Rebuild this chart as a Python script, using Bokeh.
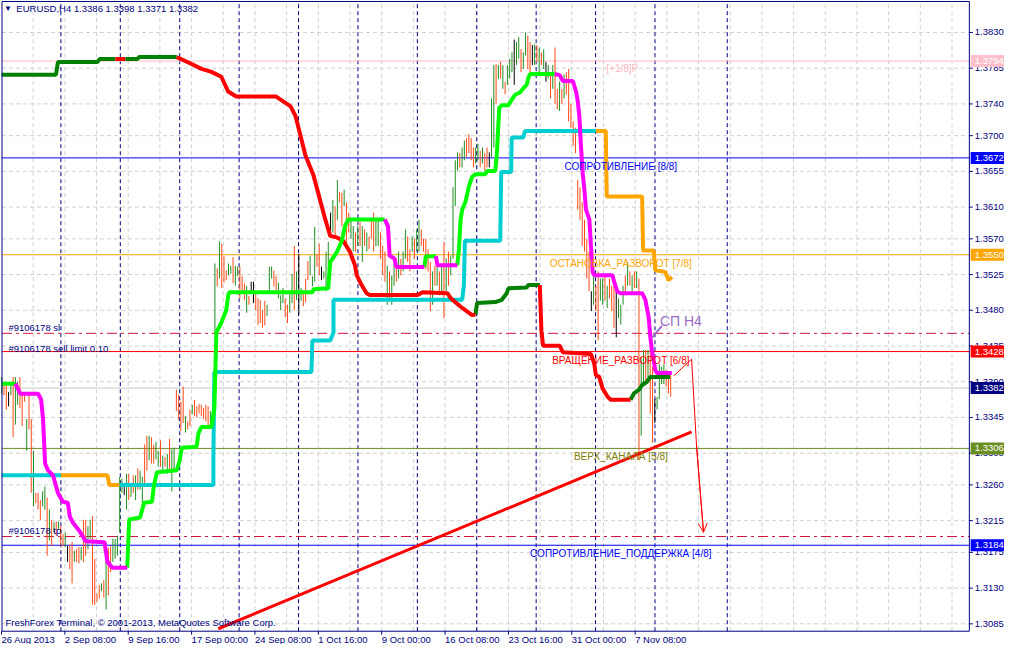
from bokeh.plotting import figure
from bokeh.models import Range1d, Label, Arrow, OpenHead, ColumnDataSource
from bokeh.core.properties import value
from bokeh.embed import file_html
from bokeh.resources import INLINE

NAVY = "#000080"
FONT = "Liberation Sans"

# ---------------- data: H4 bars, prices in pips above 1.3000 ----------------
# 26 Aug - 16 Sep
high_a = [396, 390, 390, 377, 386, 396, 396, 390, 396, 375,
          374, 343, 375, 343, 303, 250, 250, 241, 252, 258,
          244, 229, 216, 213, 214, 214, 208, 198, 200, 183,
          185, 188, 177, 179, 182, 182, 216, 216, 208, 216,
          221, 167, 123, 134, 136, 140, 187, 181, 183, 192,
          192, 196, 270, 268, 260, 274, 274, 262, 272, 272,
          281, 278, 270, 311, 322, 322, 320, 311, 314, 303,
          316, 297, 295, 299, 318, 305, 307, 380, 374, 365,
          384, 347, 340, 355, 361, 367, 359, 362, 361, 357,
          361, 359, 353, 365]
low_a = [375, 373, 355, 359, 373, 320, 336, 361, 357, 334,
         365, 303, 330, 250, 233, 237, 229, 216, 233, 229,
         171, 190, 183, 200, 196, 204, 183, 183, 182, 163,
         154, 136, 163, 163, 161, 165, 163, 171, 179, 192,
         109, 109, 113, 117, 126, 118, 103, 121, 150, 163,
         167, 171, 200, 250, 247, 229, 241, 245, 250, 241,
         254, 254, 237, 262, 278, 291, 287, 287, 292, 283,
         283, 278, 283, 274, 278, 252, 278, 353, 342, 328,
         338, 326, 330, 334, 349, 347, 345, 350, 347, 343,
         340, 334, 332, 353]
dir_a = ("uddkuduudd" "dudduddduu" "dudududduk" "dduddudduu" "ddddu" "d" "udduu"
         "uuukududud" "uuddudd" "u" "udu" "duduuddddu" "ddudd" "d" "ddddu" "u")
# 17 Sep - 3 Oct
high_b = [539, 533, 567, 564, 548, 530, 539, 536, 547, 536,
          535, 535, 523, 514, 511, 498, 516, 516, 505, 495,
          493, 480, 492, 487, 535, 535, 530, 523, 515, 499,
          508, 495, 487, 504, 526, 561, 529, 551, 508, 505,
          520, 542, 549, 523, 585, 551, 564, 535, 529, 554,
          566]
low_b = [452, 510, 520, 508, 515, 518, 524, 526, 514, 511,
         523, 495, 504, 493, 477, 487, 504, 489, 480, 462,
         464, 458, 461, 473, 504, 520, 510, 505, 495, 480,
         489, 471, 464, 477, 489, 480, 493, 474, 492, 485,
         490, 518, 524, 510, 516, 535, 524, 518, 520, 504,
         530]
dir_b = "udud" "d" "duuduudddudkk" "d" "dddduuudd" "u" "uudduudukud" "d" "duuuddkuuu"
# 3 Oct - 11 Nov
high_c = [603, 619, 611, 644, 629, 628, 632, 616, 603, 594,
          586, 578, 586, 591, 586, 582, 578, 573, 594, 603,
          594, 594, 578, 561, 554, 536, 529, 524, 545, 545,
          554, 545, 554, 582, 573, 557, 573, 570, 582, 594,
          582, 570, 570, 557, 541, 529, 536, 541, 529, 536,
          566, 545, 554, 549, 635, 669, 679, 678, 685, 694,
          697, 702, 697, 685, 685, 690, 681, 685, 678, 685,
          679, 747, 789, 790, 789, 793, 789, 768, 789, 797,
          805, 821, 818, 824, 809, 805, 830, 826, 818, 814,
          815, 814, 811, 805, 809, 793, 789, 777, 789, 811,
          759, 768, 759, 777, 780, 784, 740, 718, 710, 644,
          635, 616, 594, 570, 554, 504, 524, 511, 529, 520,
          520, 524, 511, 520, 511, 511, 504, 495, 487, 511,
          524, 541, 529, 524, 529, 529, 520, 421, 430, 430,
          430, 433, 409, 368, 371, 412, 409, 412, 405, 400, 398]
low_c = [573, 578, 570, 594, 616, 586, 611, 561, 578, 570,
         554, 554, 561, 561, 541, 561, 554, 557, 570, 554,
         561, 561, 545, 524, 516, 487, 495, 487, 511, 516,
         520, 524, 529, 545, 541, 529, 554, 545, 554, 554,
         561, 554, 532, 529, 479, 487, 511, 511, 499, 504,
         470, 504, 511, 524, 545, 611, 656, 660, 660, 669,
         673, 678, 669, 660, 665, 669, 660, 665, 656, 660,
         660, 673, 685, 740, 771, 772, 759, 752, 764, 772,
         780, 764, 789, 797, 780, 784, 801, 784, 780, 789,
         789, 793, 780, 789, 784, 768, 772, 747, 759, 740,
         733, 731, 740, 747, 752, 718, 710, 687, 678, 607,
         594, 561, 554, 520, 504, 479, 487, 479, 442, 492,
         487, 492, 483, 495, 479, 458, 446, 470, 462, 487,
         499, 511, 511, 504, 508, 508, 291, 322, 387, 392,
         396, 350, 313, 338, 355, 368, 387, 387, 384, 375, 371]
dir_c = ("kududduddu" "ududududdd" "uuddduduud" "uduudduduu" "dddddududu"
         "duduuuuduu" "dddduududd" "kuudududuu" "ukuuduuddk" "ududukudud"
         "dududddddd" "dddddkuddu" "ududddkuuu" "dudududuud" "uddkuuuuddd")

# indicator 1 (dark green = up, red = down): x = bar index, y = pips
trend_up_x = [[0, 23.89, 24.76, 42.23, 43.10, 50.09],
              [54.46, 59.70, 60.57, 77.16],
              [208.91, 209.61, 217.64, 220.52, 222.71, 223.45, 231.44, 232.18, 237.29],
              [277.30, 278.78, 280.97, 282.41, 284.59, 286.03, 294.76]]
trend_up_y = [[776.7, 776.7, 792.8, 792.8, 796.5, 796.5],
              [796.5, 796.5, 799.0, 799.0],
              [474.6, 489.1, 490.4, 493.2, 501.5, 507.7, 508.6, 511.8, 511.8],
              [367.3, 375.4, 379.7, 385.9, 390.0, 396.1, 396.1]]
trend_dn_x = [[50.09, 54.46],
              [77.16, 83.71, 88.08, 92.44, 96.81, 99.86, 103.36, 120.83, 127.38, 129.56,
               131.75, 133.93, 137.43, 139.18, 140.92, 142.67, 144.85, 147.78, 150.53, 153.59,
               155.77, 156.52, 158.70, 160.87, 162.33, 183.41, 185.59, 196.51, 197.99, 203.06,
               207.42, 208.91],
              [237.29, 237.99, 238.73, 246.03, 247.47, 259.83, 261.31, 262.01, 263.50, 264.94,
               267.12, 268.57, 277.30]]
trend_dn_y = [[796.5, 796.5],
              [799.0, 790.3, 784.1, 780.4, 774.2, 755.6, 749.4, 749.4, 737.0, 724.6,
               699.8, 675.0, 650.3, 631.7, 613.1, 594.5, 573.8, 571.8, 567.6, 553.6,
               536.6, 524.2, 511.8, 501.5, 499.3, 499.3, 502.7, 501.5, 495.3, 482.9,
               473.9, 474.6],
              [511.8, 454.0, 435.4, 435.4, 427.1, 425.0, 412.6, 398.2, 396.1, 381.6,
               371.3, 367.3, 367.3]]

# indicator 2 (lime = up, magenta = down)
fast_up_x = [[0, 5.98],
             [55.33, 56.20, 61.00, 62.75, 66.24, 67.12, 68.43, 77.16, 78.47, 79.34,
              85.90, 86.77, 88.08, 92.45, 93.76, 94.63, 96.81, 99.00, 99.87, 100.31,
              136.99, 137.43, 143.97, 144.85, 147.77, 149.96, 151.40, 152.84, 168.87],
             [186.33, 187.07, 191.44],
             [200.87, 201.62, 202.36, 203.06, 204.54, 205.99, 207.42, 208.91, 213.28, 213.97,
              217.64, 218.34, 219.08, 219.38, 220.52, 223.45, 224.89, 226.38, 228.56, 230.00,
              231.44, 232.18, 232.93, 243.84]]
fast_up_y = [[387.5, 387.5],
             [155.7, 216.4, 218.9, 237.5, 238.7, 259.8, 275.9, 278.4, 290.8, 306.9,
              308.2, 325.5, 333.0, 333.0, 356.5, 452.0, 464.3, 480.4, 499.0, 502.7,
              502.7, 506.4, 507.7, 540.8, 553.2, 567.6, 586.2, 594.5, 594.5],
             [534.6, 548.2, 548.2],
             [536.6, 557.3, 594.5, 606.9, 617.2, 635.8, 648.2, 651.5, 651.5, 655.6,
              655.6, 677.2, 718.4, 734.9, 738.3, 738.3, 745.3, 751.5, 754.4, 759.7,
              763.9, 772.1, 777.6, 777.6]]
fast_dn_x = [[5.98, 8.17, 16.03, 17.34, 18.21, 19.08, 20.39, 22.58, 24.76, 26.94,
              29.13, 30.00, 31.31, 34.37, 37.03, 45.28, 46.59, 48.78, 55.33],
             [168.87, 170.31, 171.05, 173.23, 173.97, 186.33],
             [191.44, 192.14, 200.87],
             [243.84, 246.03, 247.47, 251.84, 253.28, 254.03, 254.77, 255.47, 256.21, 256.95,
              257.65, 259.14, 259.83, 260.58, 261.32, 269.31, 270.05, 271.49, 272.93, 282.41,
              283.84, 285.33, 286.03, 286.77, 288.21, 288.95, 295.50]]
fast_dn_y = [[387.5, 375.0, 375.0, 367.6, 342.8, 287.0, 278.4, 272.2, 249.9, 238.7,
              237.5, 220.1, 212.7, 201.5, 189.1, 187.9, 163.1, 155.7, 155.7],
             [594.5, 586.2, 549.0, 544.9, 534.6, 534.6],
             [548.2, 536.6, 536.6],
             [777.6, 776.3, 768.9, 768.9, 755.6, 743.2, 722.5, 685.3, 652.4, 631.7,
              606.9, 594.5, 561.4, 528.4, 524.2, 524.2, 516.0, 503.6, 501.5, 501.5,
              493.2, 470.5, 445.7, 429.2, 404.4, 401.1, 401.1]]

# indicator 3 (cyan = up, orange = down)
slow_up_x = [[0, 26.07],
             [51.84, 93.32, 93.32, 93.76, 136.55, 136.99, 144.85, 146.29, 146.29, 203.06,
              203.80, 204.24, 219.83, 220.26, 224.63, 224.89, 230.00, 230.74, 262.01]]
slow_up_y = [[272.2, 272.2],
             [259.8, 259.8, 294.5, 402.3, 402.3, 442.0, 442.0, 451.9, 493.2, 493.2,
              511.8, 567.6, 567.6, 654.3, 654.3, 697.7, 697.7, 706.0, 706.0]]
slow_dn_x = [[26.07, 46.59, 47.47, 51.84],
             [262.01, 266.37, 266.81, 282.41, 282.84, 287.51, 288.21, 292.58, 294.06, 295.50]]
slow_dn_y = [[272.2, 272.2, 259.8, 259.8],
             [706.0, 706.0, 623.4, 623.4, 555.2, 555.2, 530.4, 528.4, 518.0, 522.2]]

trend_line_x = [95.50, 304.23]
trend_line_y = [78.8, 326.7]
arrow_x = [296.37, 304.23, 306.41, 309.47]
arrow_y = [397.4, 418.4, 309.4, 200.3]
note_x = [286.77, 291.14]
note_y = [445.7, 460.5]

level_price = [1.3794, 1.3672, 1.3550, 1.3451, 1.3428, 1.3382, 1.3306, 1.3195, 1.3184]
level_color = ["#ffb6c1", "#0000ff", "#ffa500", "#d2143c", "#ff0000", "#c8c8c8", "#6b8e23",
               "#d2143c", "#0000ff"]
level_dash = ["solid", "solid", "solid", "10 4 3 4", "solid", "solid", "solid", "10 4 3 4",
              "solid"]
box_price = [1.3794, 1.3672, 1.3550, 1.3428, 1.3382, 1.3306, 1.3184]
box_color = ["#ffc0cb", "#0000ff", "#ffa500", "#ff0000", "#000080", "#6b8e23", "#0000ff"]

price_ticks = [1.3830, 1.3785, 1.3740, 1.3700, 1.3655, 1.3610, 1.3570, 1.3525, 1.3480,
               1.3435, 1.3390, 1.3345, 1.3300, 1.3260, 1.3215, 1.3175, 1.3130, 1.3085]
date_labels = ["26 Aug 2013", "2 Sep 08:00", "9 Sep 16:00", "17 Sep 00:00", "24 Sep 08:00",
               "1 Oct 16:00", "9 Oct 00:00", "16 Oct 08:00", "23 Oct 16:00", "31 Oct 00:00",
               "7 Nov 08:00"]


def pr(v):
    return [1.3 + a / 10000.0 for a in v]


def prs(vv):
    return [pr(v) for v in vv]


# layout helpers (terminal window pixel -> bar index / price)
def ix(xs):
    return (xs - 3.3) / 2.29


def py(ys):
    return 1.3830 - (ys - 35) / 8067.0


L, R, T, B = ix(3.5), ix(980.5), py(3.5), py(643.5)

p = figure(width=1004, height=644, x_range=Range1d(ix(2), ix(1016)),
           y_range=Range1d(py(657), py(2.5)), output_backend="svg", toolbar_location=None,
           x_axis_location=None, y_axis_location=None, min_border=0,
           background_fill_color="white", border_fill_color="white")
p.xgrid.visible = False
p.ygrid.visible = False
p.outline_line_color = None

# grid
gx = [ix(3 + 32 * k) for k in range(1, 31)]
p.segment(x0=gx, y0=[B] * len(gx), x1=gx, y1=[T] * len(gx), line_color="#d0d0d0",
          line_dash="4 3", line_width=1)
p.segment(x0=[L] * len(price_ticks), y0=price_ticks, x1=[R] * len(price_ticks),
          y1=price_ticks, line_color="#d0d0d0", line_dash="4 3", line_width=1)
# weekly period separators
sx = [ix(3 + 60 * k) for k in range(1, 12)] + [ix(736)]
p.segment(x0=sx, y0=[B] * len(sx), x1=sx, y1=[T] * len(sx), line_color=NAVY,
          line_dash="4 3", line_width=1)

# levels
for lv, col, dash in zip(level_price, level_color, level_dash):
    p.segment(x0=[L], y0=[lv], x1=[R], y1=[lv], line_color=col, line_dash=dash, line_width=1)

# bars
bar_high = high_a + high_b + high_c
bar_low = low_a + low_b + low_c
bar_dir = dir_a + dir_b + dir_c
cmap = {"u": "#1f8f1f", "d": "#ff4a14", "k": "#000000"}
n = min(len(bar_high), len(bar_low))
dirs = (bar_dir + "u" * n)[:n]
src = ColumnDataSource(dict(x=list(range(n)), hi=pr(bar_high[:n]), lo=pr(bar_low[:n]),
                            c=[cmap.get(ch, "#1f8f1f") for ch in dirs]))
p.segment(x0="x", y0="lo", x1="x", y1="hi", line_color="c", line_width=1, source=src)

# indicators
p.multi_line(xs=slow_up_x, ys=prs(slow_up_y), line_color="#00ced1", line_width=4)
p.multi_line(xs=slow_dn_x, ys=prs(slow_dn_y), line_color="#ffa500", line_width=4)
p.multi_line(xs=trend_up_x, ys=prs(trend_up_y), line_color="#008000", line_width=4)
p.multi_line(xs=trend_dn_x, ys=prs(trend_dn_y), line_color="#ff0000", line_width=4)
p.multi_line(xs=fast_up_x, ys=prs(fast_up_y), line_color="#00ff00", line_width=4)
p.multi_line(xs=fast_dn_x, ys=prs(fast_dn_y), line_color="#ff00ff", line_width=4)

p.line(trend_line_x, pr(trend_line_y), line_color="#ff0000", line_width=3)
p.line(arrow_x, pr(arrow_y), line_color="#ff0000", line_width=1)
p.add_layout(Arrow(end=OpenHead(size=9, line_color="#ff0000", line_width=1),
                   x_start=arrow_x[-2], y_start=pr(arrow_y)[-2], x_end=arrow_x[-1],
                   y_end=pr(arrow_y)[-1], line_color="#ff0000", line_width=1))
p.line(note_x, pr(note_y), line_color="#9b6bc8", line_width=2)

# frame
p.segment(x0=[L, R, L, L], y0=[B, B, T, B], x1=[L, R, R, R], y1=[T, T, T, B],
          line_color=NAVY, line_width=1)

# price scale
p.segment(x0=[R] * len(price_ticks), y0=price_ticks, x1=[ix(984)] * len(price_ticks),
          y1=price_ticks, line_color=NAVY, line_width=1)
p.text(x=[ix(986)] * len(price_ticks), y=price_ticks, text=["%.4f" % t for t in price_ticks],
       text_font=value(FONT), text_font_size="9.5px", text_color=NAVY,
       text_baseline="middle", text_align="left")
p.rect(x=[ix(999.5)] * len(box_price), y=box_price, width=35, height=12,
       width_units="screen", height_units="screen", fill_color=box_color, line_color=None)
p.text(x=[ix(986)] * len(box_price), y=box_price, text=["%.4f" % t for t in box_price],
       text_font=value(FONT), text_font_size="9.5px", text_color="white",
       text_baseline="middle", text_align="left")

# time scale
tx = [ix(3 + 64 * k) for k in range(len(date_labels))]
p.segment(x0=tx, y0=[B] * len(tx), x1=tx, y1=[py(647)] * len(tx), line_color=NAVY,
          line_width=1)
p.text(x=tx, y=[py(651.5)] * len(tx), text=date_labels, text_font=value(FONT),
       text_font_size="9.5px", text_color=NAVY, text_baseline="middle", text_align="left")


def txt(x, y, s, color, size="10px", align="center"):
    p.add_layout(Label(x=x, y=y, text=s, text_color=color, text_font=FONT,
                       text_font_size=size, text_align=align, text_baseline="middle"))


cx = ix(628.5)
txt(ix(630), py(72), "[+1/8]P", "#ffb6c1")
txt(cx, py(171), "СОПРОТИВЛЕНИЕ [8/8]", "#0000ff")
txt(cx, py(270), "ОСТАНОВКА_РАЗВОРОТ [7/8]", "#ffa500")
txt(cx, py(368), "ВРАЩЕНИЕ_РАЗВОРОТ [6/8]", "#ff0000")
txt(cx, py(466), "ВЕРХ_КАНАЛА [5/8]", "#808000")
txt(cx, py(565), "СОПРОТИВЛЕНИЕ_ПОДДЕРЖКА [4/8]", "#0000ff")
txt(ix(10), py(335), "#9106178 sl", NAVY, "9.5px", "left")
txt(ix(10), py(356), "#9106178 sell limit 0.10", NAVY, "9.5px", "left")
txt(ix(10), py(541), "#9106178 tp", NAVY, "9.5px", "left")
txt(ix(668), py(328), "СП Н4", "#9b6bc8", "14px", "left")
txt(ix(18), py(11), "EURUSD,H4  1.3386 1.3398 1.3371 1.3382", NAVY, "9.5px", "left")
txt(ix(5.5), py(10.5), "▼", NAVY, "8px", "left")
txt(ix(7), py(635), "FreshForex Terminal, © 2001-2013, MetaQuotes Software Corp.", NAVY,
    "9.5px", "left")

open("out.html", "w").write(file_html(p, INLINE))
